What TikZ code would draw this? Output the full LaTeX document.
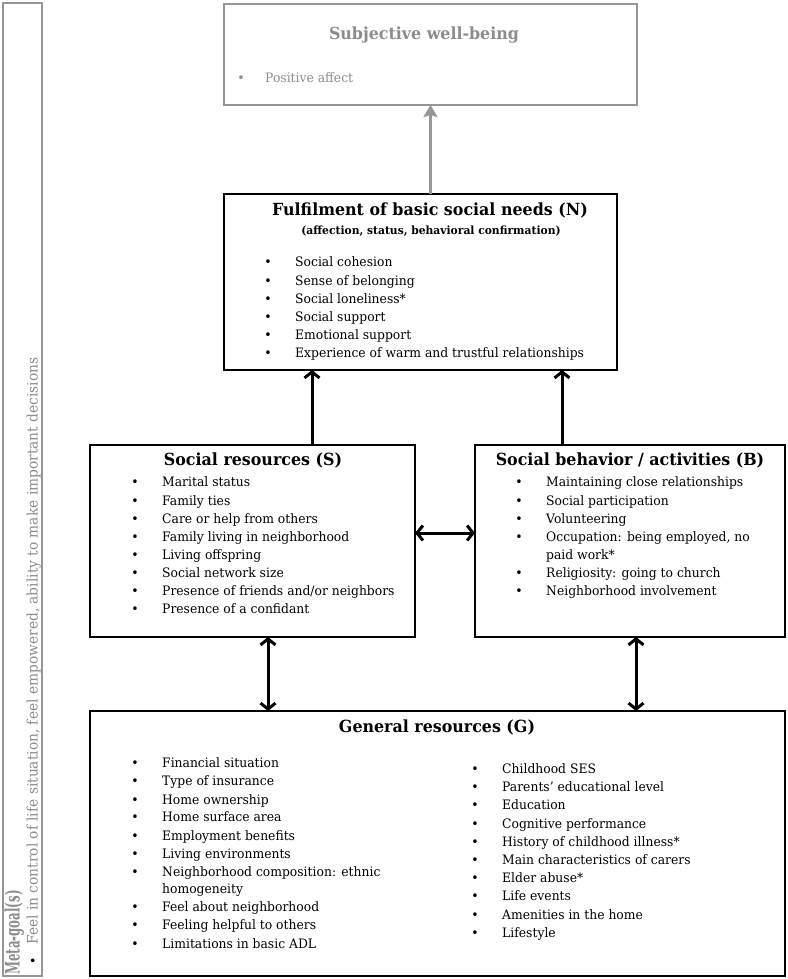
\documentclass[tikz,border=0pt]{standalone}
\usepackage{fontspec}
\setmainfont{DejaVu Serif}[FakeStretch=0.95]
\usetikzlibrary{arrows.meta}
\definecolor{txtgray}{RGB}{140,140,140}
\definecolor{linegray}{RGB}{150,150,150}
\begin{document}
\begin{tikzpicture}[x=1pt,y=-1pt,
  box/.style={draw, line width=1.2pt, anchor=north west, inner sep=0, outer sep=0},
  body/.style={font=\fontsize{13}{15}\selectfont, anchor=mid west, inner sep=0},
  dot/.style={font=\fontsize{13}{15}\selectfont, anchor=mid, inner sep=0},
  ttl/.style={font=\bfseries\fontsize{16.7}{19}\selectfont, inner sep=0, anchor=mid},
  arr/.style={line width=3pt, -{Straight Barb[length=6pt,width=15pt]}},
  darr/.style={line width=3pt, {Straight Barb[length=6pt,width=15pt]}-{Straight Barb[length=6pt,width=15pt]}},
  garr/.style={line width=3.5pt, draw=linegray, -{Stealth[length=12pt,width=14pt,inset=2pt]}},
]
\useasboundingbox (0,0) rectangle (787,979);

% boxes
\node[box, draw=linegray, minimum width=39pt, minimum height=973pt] (meta) at (3,3) {};
\node[box, draw=linegray, line width=1.5pt, minimum width=413pt, minimum height=101pt] (swb) at (224,4) {};
\node[box, minimum width=393pt, minimum height=176pt] (N) at (224,194) {};
\node[box, minimum width=325pt, minimum height=192pt] (S) at (90,445) {};
\node[box, minimum width=310pt, minimum height=192pt] (B) at (475,445) {};
\node[box, minimum width=695pt, minimum height=265pt] (G) at (90,711) {};

% meta-goal
\node[rotate=90, anchor=mid west, inner sep=0, text=txtgray, font=\bfseries\fontsize{20}{22}\selectfont] (metat) at (17,975) {\scalebox{0.62}[1]{Meta-goal(s)}};
\node[rotate=90, dot, text=black] (metab) at (35,961) {•};
\node[rotate=90, anchor=mid west, inner sep=0, font=\fontsize{14.5}{16}\selectfont, text=txtgray] (metai) at (35,945) {Feel in control of life situation, feel empowered, ability to make important decisions};

% subjective well-being
\node[ttl, text=txtgray] (swbt) at (424,37) {Subjective well-being};
\node[dot, text=txtgray] (swbb) at (241,80) {•};
\node[body, text=txtgray] (swbi) at (265,80) {Positive affect};

% N
\node[ttl] (Nt) at (430,213) {Fulfilment of basic social needs (N)};
\node[inner sep=0, font=\bfseries\fontsize{11.3}{13}\selectfont] (Ns) at (431,231) {(affection, status, behavioral confirmation)};
\foreach \y/\t [count=\i] in {264/Social cohesion, 283/Sense of belonging, 301/Social loneliness*, 319/Social support, 337/Emotional support, 355/Experience of warm and trustful relationships}{
  \node[dot] (nb\i) at (268,\y) {•};
  \node[body] (nt\i) at (295,\y) {\t};
}

% S
\node[ttl] (St) at (253,463) {Social resources (S)};
\foreach \y/\t [count=\i] in {484/Marital status, 503/Family ties, 521/Care or help from others, 539/Family living in neighborhood, 557/Living offspring, 575/Social network size, 593/{Presence of friends and/or neighbors}, 611/Presence of a confidant}{
  \node[dot] (sb\i) at (135,\y) {•};
  \node[body] (st\i) at (162,\y) {\t};
}

% B
\node[ttl] (Bt) at (630,463) {Social behavior / activities (B)};
\foreach \y/\t [count=\i] in {484/Maintaining close relationships, 503/Social participation, 521/Volunteering, 539/{Occupation: being employed, no}, 575/Religiosity: going to church, 593/Neighborhood involvement}{
  \node[dot] (bb\i) at (519,\y) {•};
  \node[body] (bt\i) at (546,\y) {\t};
}
\node[body] (btc) at (546,557) {paid work*};

% G
\node[ttl] (Gt) at (437,730) {General resources (G)};
\foreach \y/\t [count=\i] in {765/Financial situation, 783/Type of insurance, 802/Home ownership, 819/Home surface area, 838/Employment benefits, 856/Living environments, 874/Neighborhood composition: ethnic, 909/Feel about neighborhood, 927/Feeling helpful to others, 946/Limitations in basic ADL}{
  \node[dot] (glb\i) at (135,\y) {•};
  \node[body] (glt\i) at (162,\y) {\t};
}
\node[body] (glc) at (162,891) {homogeneity};
\foreach \y/\t [count=\i] in {771/Childhood SES, 789/Parents’ educational level, 807/Education, 826/Cognitive performance, 844/History of childhood illness*, 862/Main characteristics of carers, 880/Elder abuse*, 898/Life events, 917/Amenities in the home, 935/Lifestyle}{
  \node[dot] (grb\i) at (475,\y) {•};
  \node[body] (grt\i) at (502,\y) {\t};
}

% connectors
\coordinate (xa) at (312,0);
\coordinate (xb) at (562,0);
\coordinate (xc) at (268,0);
\coordinate (xd) at (636,0);
\coordinate (ym) at (0,533);
\draw[garr] (N.north -| swb.south) -- (swb.south);
\draw[arr] (S.north -| xa) -- (N.south -| xa);
\draw[arr] (B.north -| xb) -- (N.south -| xb);
\draw[darr] (S.east |- ym) -- (B.west |- ym);
\draw[darr] (S.south -| xc) -- (G.north -| xc);
\draw[darr] (B.south -| xd) -- (G.north -| xd);
\end{tikzpicture}
\end{document}
